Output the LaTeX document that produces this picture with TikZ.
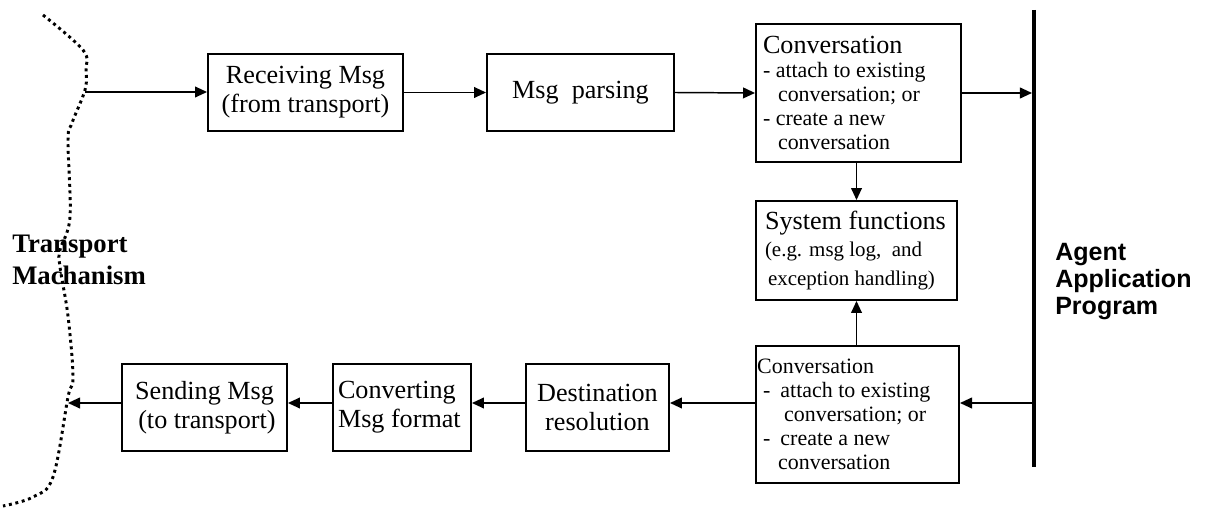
\documentclass[tikz,border=0pt]{standalone}
\usepackage{fontspec}
\setmainfont{Liberation Serif}
\setsansfont{Liberation Sans}
\usetikzlibrary{arrows.meta}
\begin{document}
\begin{tikzpicture}[box/.style={draw, line width=1.4pt, inner sep=0pt, font=\fontsize{18.6}{20.5}\selectfont},
  small/.style={font=\fontsize{15.6}{17.1}\selectfont},
  arr/.style={line width=1.05pt, -{Triangle[length=0.3cm, width=0.27cm]}}]
\useasboundingbox (0,0) rectangle (30.175,12.7);
\coordinate (T) at (25.85,12.45); %bar top
\coordinate (B) at (25.85,1.025); %bar bottom
\coordinate (L) at (0,2.625); %lower row
\coordinate (I) at (2.125,10.4); %leaves transport
\coordinate (O) at (1.7,2.625); %back to transport
\node[anchor=west, inner sep=0pt, align=flush left, font=\bfseries\fontsize{19}{22.8}\selectfont] (M) at (0.3,6.2) {Transport\\Machanism};
\node[anchor=west, inner sep=0pt, align=flush left, font=\sffamily\bfseries\fontsize{17.8}{19.2}\selectfont] (A) at (26.375,5.65) {Agent\\Application\\Program};
\node[box, minimum width=4.875cm, minimum height=1.925cm, align=center] (R) at (7.6375,10.3875) {Receiving Msg\\(from transport)};
\node[box, minimum width=4.675cm, minimum height=1.925cm] (P) at (14.5125,10.3875) {Msg\ \ parsing};
\node[box, small, inner xsep=0.175cm, text width=4.775cm, minimum height=3.45cm, align=flush left] (C1) at (21.4625,10.375)
  {{\fontsize{18.6}{20}\selectfont Conversation}\\- attach to existing\\\hspace*{0.375cm}conversation; or\\- create a new\\\hspace*{0.375cm}conversation};
\node[box, inner xsep=0.225cm, text width=4.575cm, minimum height=2.475cm, align=flush left] (F) at (21.4125,6.4375)
  {System functions\\[2pt]{\fontsize{14.9}{17.1}\selectfont (e.g. msg log,\ \ and\\\hspace*{0.075cm}exception handling)}};
\node[box, small, inner xsep=0.03cm, text width=5.015cm, minimum height=3.425cm, align=flush left] (C2) at (21.4375,2.3375)
  {Conversation\\\hspace*{0.15cm}-\hspace*{0.25cm}attach to existing\\\hspace*{0.675cm}conversation; or\\\hspace*{0.15cm}-\hspace*{0.25cm}create a new\\\hspace*{0.525cm}conversation};
\node[box, minimum width=3.575cm, minimum height=2.175cm, align=center] (D) at (14.9375,2.5125) {Destination\\resolution};
\node[box, inner xsep=0.125cm, text width=3.2cm, minimum height=2.175cm, align=flush left] (V) at (10.05,2.5125) {Converting\\Msg format};
\node[box, minimum width=4.125cm, minimum height=2.175cm, align=center] (S) at (5.1125,2.5125) {Sending Msg\\\hspace*{0.12cm}(to transport)};
\draw[line width=2.1pt, dash pattern=on 2.1pt off 2.6pt] plot[smooth, tension=0.6] coordinates {(1.075,12.325) (2.075,11.45) (2.15,10.95) (2.125,10.45) (1.8,9.625) (1.7,9.2) (1.75,7.275) (1.5,6.45) (1.5,6.025) (1.7,4.8) (1.825,3.275) (1.7,2.775) (1.325,0.775) (0.825,0.275) (0.075,0.05)}; %transport edge
\draw[line width=2.9pt] (T) -- (B); %agent bar
\draw[arr] (I) -- (R.west |- I);
\draw[arr] (R.east) -- (P.west);
\draw[arr] (P.east) -- (C1.west);
\draw[arr, shorten >=1.45pt] (C1.east) -- (C1.east -| T);
\draw[arr] (F.north |- C1.south) -- (F.north);
\draw[arr] (F.south |- C2.north) -- (F.south);
\draw[arr, shorten <=1.45pt] (T |- L) -- (C2.east |- L);
\draw[arr] (C2.west |- L) -- (D.east |- L);
\draw[arr] (D.west |- L) -- (V.east |- L);
\draw[arr] (V.west |- L) -- (S.east |- L);
\draw[arr] (S.west |- L) -- (O);
\end{tikzpicture}
\end{document}
